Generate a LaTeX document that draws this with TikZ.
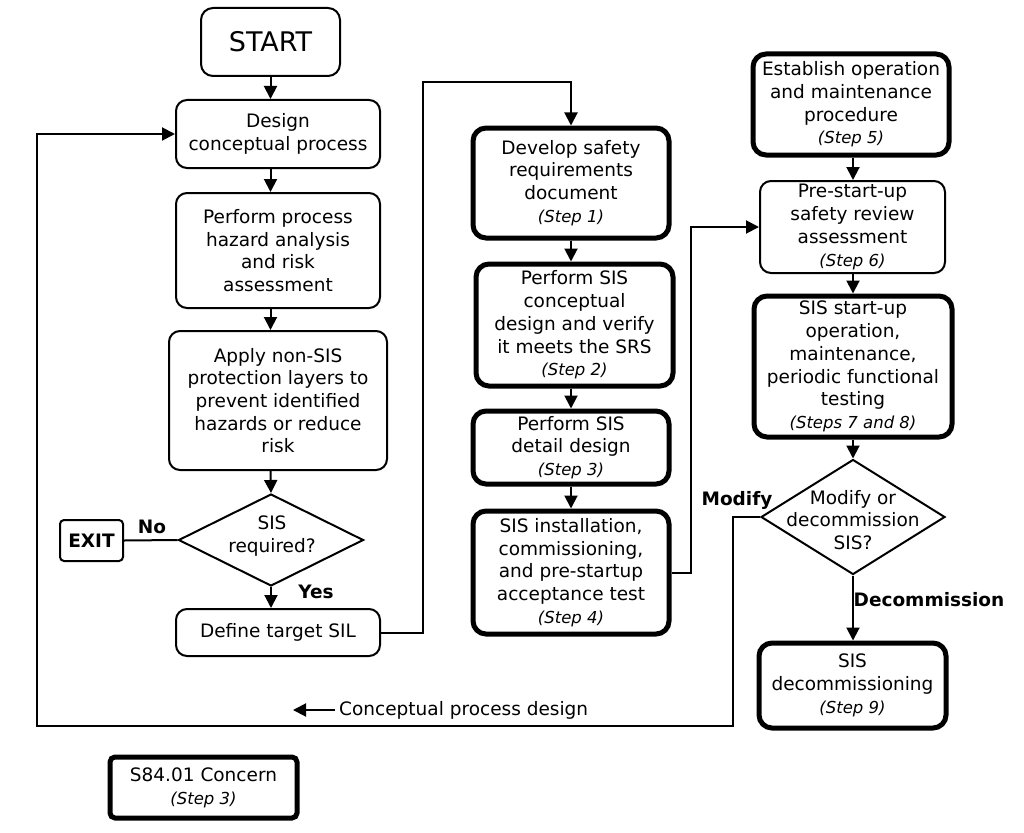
\documentclass[tikz,border=0pt]{standalone}
\usepackage{fontspec}
\setmainfont{DejaVu Sans}
\usetikzlibrary{arrows.meta,shapes.geometric,calc}
\newcommand\stepit[1]{{\fontsize{16.5}{18}\selectfont\itshape #1}}
\begin{document}
\begin{tikzpicture}[x=1pt,y=-1pt,
 every node/.style={font=\fontsize{18.5}{22.7}\selectfont, align=center, inner sep=0pt},
 thinbox/.style={draw, line width=2pt, rounded corners=11pt},
 thickbox/.style={draw, line width=5pt, rounded corners=13pt},
 dia/.style={draw, diamond, line width=2pt, inner sep=0pt},
 arr/.style={line width=2pt, -{Triangle[length=13pt,width=13pt]}},
 con/.style={line width=2pt},
 lbl/.style={font=\fontsize{18.5}{22.7}\selectfont\bfseries}]
\fill[white] (0,0) rectangle (1024,832);
\useasboundingbox (0,0) rectangle (1024,832);

% left column
\node[thinbox, rounded corners=12pt, minimum width=139pt, minimum height=68pt, font=\fontsize{27}{30}\selectfont] (start) at (270.5,42) {START};
\node[thinbox, minimum width=204pt, minimum height=68pt] (design) at (278,134) {Design\\conceptual process};
\node[thinbox, minimum width=204pt, minimum height=115pt] (pha) at (278,250.5) {Perform process\\hazard analysis\\and risk\\assessment};
\node[thinbox, minimum width=218pt, minimum height=139pt] (apply) at (278,400.5) {Apply non-SIS\\protection layers to\\prevent identified\\hazards or reduce\\risk};
\node[dia, minimum width=185pt, minimum height=92pt] (sisreq) at (271,540) {};
\node (sisreqt) at (272,536) {SIS\\required?};
\node[thinbox, rounded corners=4pt, minimum width=63pt, minimum height=41pt, font=\fontsize{18.5}{22.7}\selectfont\bfseries] (exit) at (91.5,540.5) {EXIT};
\node[thinbox, minimum width=204pt, minimum height=47pt] (target) at (278,632.5) {Define target SIL};

\draw[arr] (start.south) -- (start.south |- design.north);
\draw[arr] (start.south |- design.south) -- (start.south |- pha.north);
\draw[arr] (start.south |- pha.south) -- (start.south |- apply.north);
\draw[arr] (start.south |- apply.south) -- (sisreq.north);
\draw[con] (sisreq.west) -- (exit.east);
\draw[arr] (sisreq.south) -- (sisreq.south |- target.north);
\node[lbl] (no) at (152,527) {No};
\node[lbl] (yes) at (316,592) {Yes};

% middle column
\node[thickbox, minimum width=196pt, minimum height=110pt] (s1) at (571,183) {Develop safety\\requirements\\document\\\stepit{(Step 1)}};
\node[thickbox, minimum width=197pt, minimum height=122pt] (s2) at (574.5,325) {Perform SIS\\conceptual\\design and verify\\it meets the SRS\\\stepit{(Step 2)}};
\node[thickbox, minimum width=196pt, minimum height=73pt] (s3) at (571,447.5) {Perform SIS\\detail design\\\stepit{(Step 3)}};
\node[thickbox, minimum width=196pt, minimum height=123pt] (s4) at (571,572.5) {SIS installation,\\commissioning,\\and pre-startup\\acceptance test\\\stepit{(Step 4)}};

\draw[arr] (target.east) -- ++(42,0) |- ($(s1.north)+(0,-43)$) -- (s1.north);
\draw[arr] (s1.south) -- (s1.south |- s2.north);
\draw[arr] (s1.south |- s2.south) -- (s1.south |- s3.north);
\draw[arr] (s3.south) -- (s3.south |- s4.north);

% right column
\node[thickbox, minimum width=196pt, minimum height=101pt] (s5) at (851,104.5) {Establish operation\\and maintenance\\procedure\\\stepit{(Step 5)}};
\node[thinbox, minimum width=185pt, minimum height=92pt] (s6) at (852.5,227) {Pre-start-up\\safety review\\assessment\\\stepit{(Step 6)}};
\node[thickbox, minimum width=198pt, minimum height=141pt] (s78) at (853,366.5) {SIS start-up\\operation,\\maintenance,\\periodic functional\\testing\\\stepit{(Steps 7 and 8)}};
\node[dia, minimum width=184pt, minimum height=115pt] (mod) at (853,517) {};
\node (modt) at (853,520) {Modify or\\decommission\\SIS?};
\node[thickbox, minimum width=187pt, minimum height=85pt] (s9) at (852.5,685.5) {SIS\\decommissioning\\\stepit{(Step 9)}};

\draw[arr] (s4.east) -- ++(19,0) |- (s6.west);
\draw[arr] (mod.north |- s5.south) -- (mod.north |- s6.north);
\draw[arr] (mod.north |- s6.south) -- (mod.north |- s78.north);
\draw[arr] (mod.north |- s78.south) -- (mod.north);
\draw[arr] (mod.south) -- (mod.south |- s9.north);
\node[lbl] (modlbl) at (737,500) {Modify};
\node[lbl] (declbl) at (929,600) {Decommission};

% loop back
\coordinate (lb) at (37,726);
\draw[arr] (mod.west) -- ++(-27,0) |- (lb) |- (design.west);
\node[anchor=west] (cpd) at (339,710) {Conceptual process design};
\draw[arr] ([xshift=-4pt]cpd.west) -- ++(-42,0);

% legend
\node[thickbox, rounded corners=5pt, minimum width=187pt, minimum height=61pt] (concern) at (203.5,787.5) {S84.01 Concern\\\stepit{(Step 3)}};
\end{tikzpicture}
\end{document}
